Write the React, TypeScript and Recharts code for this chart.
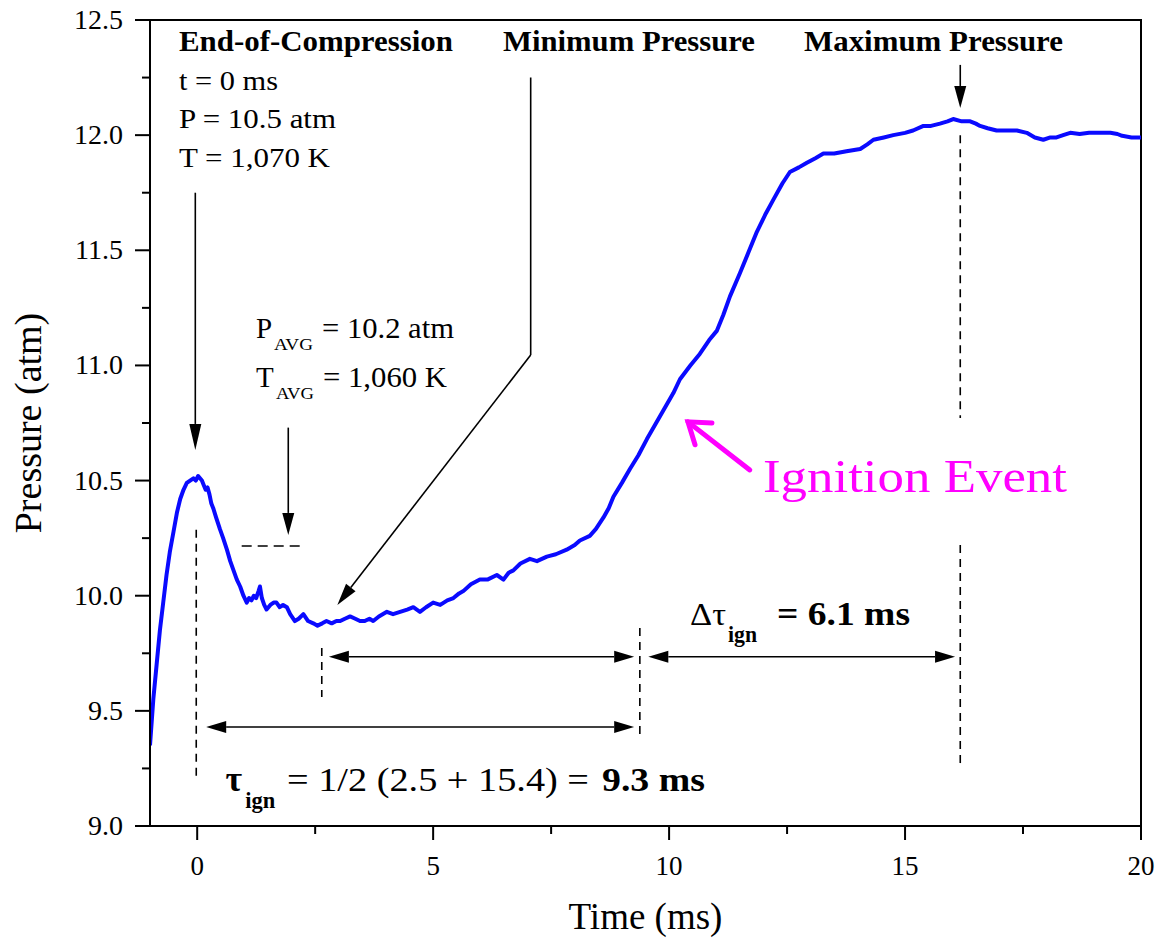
import React from 'react';
import { LineChart, Line, XAxis, YAxis, ReferenceLine, ReferenceDot, ReferenceArea } from 'recharts';

// ---- data ----
const timeMs = [
  -1.0, -0.93, -0.86, -0.79, -0.72, -0.65, -0.58, -0.5, -0.43, -0.36, -0.29, -0.22, -0.15, -0.08, -0.03,
  0.02, 0.06, 0.1, 0.14, 0.18, 0.22, 0.26, 0.3, 0.34, 0.4, 0.48, 0.55, 0.63, 0.7, 0.77, 0.84, 0.91, 0.98,
  1.05, 1.1, 1.15, 1.2, 1.25, 1.3, 1.33, 1.37, 1.42, 1.47, 1.55, 1.62, 1.68, 1.75, 1.82, 1.9, 1.97,
  2.07, 2.15, 2.25, 2.35, 2.46, 2.55, 2.65, 2.74, 2.85, 2.95, 3.03, 3.13, 3.24, 3.35, 3.45, 3.55, 3.65,
  3.73, 3.85, 4.02, 4.15, 4.3, 4.45, 4.58, 4.72, 4.85, 5.0, 5.15, 5.3, 5.43, 5.55, 5.64, 5.8, 5.99,
  6.15, 6.35, 6.49, 6.6, 6.7, 6.85, 7.05, 7.2, 7.41, 7.6, 7.83, 8.0, 8.11, 8.32, 8.45, 8.61, 8.72, 8.82,
  9.0, 9.17, 9.35, 9.53, 9.67, 9.81, 9.95, 10.09, 10.23, 10.45, 10.65, 10.85, 11.01, 11.15, 11.29,
  11.5, 11.68, 11.86, 12.05, 12.21, 12.4, 12.56, 12.75, 12.92, 13.1, 13.27, 13.5, 13.76, 14.05, 14.2,
  14.33, 14.55, 14.75, 15.0, 15.17, 15.39, 15.55, 15.74, 15.9, 16.02, 16.2, 16.38, 16.5, 16.59, 16.75,
  16.94, 17.15, 17.37, 17.58, 17.75, 17.93, 18.08, 18.21, 18.35, 18.5, 18.7, 18.9, 19.13, 19.35, 19.5,
  19.6, 19.8, 20.0,
];
const pressureAtm = [
  9.35, 9.55, 9.7, 9.85, 9.97, 10.09, 10.19, 10.28, 10.36, 10.42, 10.46, 10.49, 10.5, 10.51, 10.5,
  10.52, 10.51, 10.5, 10.48, 10.46, 10.47, 10.44, 10.4, 10.38, 10.34, 10.29, 10.25, 10.2, 10.15, 10.11, 10.07, 10.04, 10.0,
  9.97, 9.99, 9.98, 10.0, 9.99, 10.02, 10.04, 9.99, 9.96, 9.94, 9.96, 9.97, 9.97, 9.95, 9.96, 9.95, 9.92,
  9.89, 9.9, 9.92, 9.89, 9.88, 9.87, 9.88, 9.89, 9.88, 9.89, 9.89, 9.9, 9.91, 9.9, 9.89, 9.89, 9.9,
  9.89, 9.91, 9.93, 9.92, 9.93, 9.94, 9.95, 9.93, 9.95, 9.97, 9.96, 9.98, 9.99, 10.01, 10.02, 10.05, 10.07,
  10.07, 10.09, 10.07, 10.1, 10.11, 10.14, 10.16, 10.15, 10.17, 10.18, 10.2, 10.22, 10.24, 10.26, 10.29, 10.34, 10.38, 10.43,
  10.49, 10.55, 10.61, 10.68, 10.73, 10.78, 10.83, 10.88, 10.94, 11.0, 11.05, 11.11, 11.15, 11.22, 11.3,
  11.4, 11.49, 11.58, 11.66, 11.72, 11.79, 11.84, 11.86, 11.88, 11.9, 11.92, 11.92, 11.93, 11.94, 11.96,
  11.98, 11.99, 12.0, 12.01, 12.02, 12.04, 12.04, 12.05, 12.06, 12.07, 12.06, 12.06, 12.05, 12.04, 12.03,
  12.02, 12.02, 12.02, 12.01, 11.99, 11.98, 11.99, 11.99, 12.0, 12.01, 12.005, 12.01, 12.01, 12.01, 12.005,
  11.997, 11.99, 11.99,
];

const xTicks = [0, 2.5, 5, 7.5, 10, 12.5, 15, 17.5, 20];
const xMajorTicks = [0, 5, 10, 15, 20];
const yTicks = [9, 9.25, 9.5, 9.75, 10, 10.25, 10.5, 10.75, 11, 11.25, 11.5, 11.75, 12, 12.25, 12.5];
const yMajorTicks = [9, 9.5, 10, 10.5, 11, 11.5, 12, 12.5];

// annotation geometry in data coordinates (time ms, pressure atm)
type SegKind = 'arrow' | 'bigArrow' | 'double' | 'dash' | 'dashdot' | 'plain' | 'magenta';
const segFrom: [number, number][] = [
  [-0.04, 11.75], [1.93, 10.73], [0.943, 10.216], [7.067, 12.25], [7.067, 11.045], [16.17, 12.305],
  [16.17, 12.0], [16.17, 10.22], [-0.02, 10.286], [2.64, 9.773], [9.38, 9.86],
  [2.79, 9.735], [9.56, 9.735], [0.19, 9.43], [11.71, 10.546],
];
const segTo: [number, number][] = [
  [-0.04, 10.633], [1.93, 10.264], [2.236, 10.216], [7.067, 11.045], [2.97, 9.96], [16.17, 12.118],
  [16.17, 10.772], [16.17, 9.256], [-0.02, 9.217], [2.64, 9.56], [9.38, 9.38],
  [9.26, 9.735], [16.06, 9.735], [9.26, 9.43], [10.4, 10.755],
];
const segKinds: SegKind[] = [
  'bigArrow', 'arrow', 'dashdot', 'plain', 'arrow', 'arrow',
  'dash', 'dash', 'dash', 'dash', 'dash',
  'double', 'double', 'double', 'magenta',
];

// text annotations: anchor (left, baseline) in data coordinates
const noteTexts = [
  'End-of-Compression', 't = 0 ms', 'P = 10.5 atm', 'T = 1,070 K',
  'Minimum Pressure', 'Maximum Pressure',
  'P', 'AVG', '= 10.2 atm', 'T', 'AVG', '= 1,060 K',
  'τ', 'ign', '= 1/2 (2.5 + 15.4) =', '9.3 ms',
  'Δτ', 'ign', '= 6.1 ms',
  'Ignition Event',
];
const noteTime = [
  -0.386, -0.386, -0.386, -0.386,
  6.48, 12.859,
  1.246, 1.627, 2.645, 1.246, 1.67, 2.666,
  0.6, 1.02, 1.903, 8.578,
  10.443, 11.249, 12.287,
  11.99,
];
const notePressure = [
  12.365, 12.196, 12.031, 11.862,
  12.365, 12.365,
  11.119, 11.067, 11.119, 10.906, 10.854, 10.906,
  9.152, 9.078, 9.152, 9.152,
  9.873, 9.799, 9.873,
  10.45,
];

// ---- styles ----
const SERIF = "'Liberation Serif', 'Times New Roman', Times, serif";
// [fontSize, bold, textLength, color]
const noteStyles: [number, boolean, number | null, string][] = [
  [29, true, 274, '#000'], [28, false, 99, '#000'], [28, false, 157, '#000'], [28, false, 151, '#000'],
  [29, true, 252, '#000'], [29, true, 259, '#000'],
  [29, false, null, '#000'], [17, false, 39, '#000'], [29, false, 132, '#000'],
  [29, false, null, '#000'], [17, false, 38, '#000'], [29, false, 124, '#000'],
  [36, true, null, '#000'], [24, true, 30, '#000'], [34, false, 302, '#000'], [34, true, 103, '#000'],
  [32, false, 36, '#000'], [24, true, 29, '#000'], [34, true, 133, '#000'],
  [46, false, 304, '#ff00ff'],
];

const data = timeMs.map((t, i) => ({ t, p: pressureAtm[i] }));

const headPolygon = (x1: number, y1: number, x2: number, y2: number, len: number, hw: number) => {
  const dx = x2 - x1;
  const dy = y2 - y1;
  const L = Math.hypot(dx, dy) || 1;
  const ux = dx / L;
  const uy = dy / L;
  const bx = x2 - ux * len;
  const by = y2 - uy * len;
  const px = -uy;
  const py = ux;
  return {
    points: `${x2},${y2} ${bx + px * hw},${by + py * hw} ${bx - px * hw},${by - py * hw}`,
    bx,
    by,
  };
};

const renderSeg = (kind: SegKind) => (props: any) => {
  const { x1, y1, x2, y2 } = props;
  if (kind === 'dash' || kind === 'dashdot' || kind === 'plain') {
    return (
      <line
        x1={x1}
        y1={y1}
        x2={x2}
        y2={y2}
        stroke="#000"
        strokeWidth={1.6}
        strokeDasharray={kind === 'dash' ? '8 6' : kind === 'dashdot' ? '10 6' : undefined}
      />
    );
  }
  if (kind === 'arrow' || kind === 'bigArrow') {
    const h = headPolygon(x1, y1, x2, y2, kind === 'bigArrow' ? 26 : 22, 6);
    return (
      <g>
        <line x1={x1} y1={y1} x2={h.bx} y2={h.by} stroke="#000" strokeWidth={1.6} />
        <polygon points={h.points} fill="#000" />
      </g>
    );
  }
  if (kind === 'double') {
    const h2 = headPolygon(x1, y1, x2, y2, 20, 6);
    const h1 = headPolygon(x2, y2, x1, y1, 20, 6);
    return (
      <g>
        <line x1={h1.bx} y1={h1.by} x2={h2.bx} y2={h2.by} stroke="#000" strokeWidth={1.6} />
        <polygon points={h1.points} fill="#000" />
        <polygon points={h2.points} fill="#000" />
      </g>
    );
  }
  // magenta open arrow
  const dx = x1 - x2;
  const dy = y1 - y2;
  const L = Math.hypot(dx, dy) || 1;
  const ux = dx / L;
  const uy = dy / L;
  const arm = 24;
  const a = (35 * Math.PI) / 180;
  const r1x = ux * Math.cos(a) - uy * Math.sin(a);
  const r1y = ux * Math.sin(a) + uy * Math.cos(a);
  const r2x = ux * Math.cos(-a) - uy * Math.sin(-a);
  const r2y = ux * Math.sin(-a) + uy * Math.cos(-a);
  return (
    <g stroke="#ff00ff" strokeWidth={5} strokeLinecap="round" fill="none">
      <line x1={x1} y1={y1} x2={x2} y2={y2} />
      <polyline points={`${x2 + r1x * arm},${y2 + r1y * arm} ${x2},${y2} ${x2 + r2x * arm},${y2 + r2y * arm}`} />
    </g>
  );
};

const renderNote = (i: number) => (props: any) => {
  const { cx, cy } = props;
  const [size, bold, len, color] = noteStyles[i];
  const extra: any = len ? { textLength: len, lengthAdjust: 'spacingAndGlyphs' } : {};
  return (
    <text
      x={cx}
      y={cy}
      fontFamily={SERIF}
      fontSize={size}
      fontWeight={bold ? 700 : 400}
      fill={color}
      {...extra}
    >
      {noteTexts[i]}
    </text>
  );
};

const XTick = (props: any) => {
  const { x, y, payload } = props;
  const v = payload.value;
  const major = xMajorTicks.includes(v);
  return (
    <g>
      <line x1={x} x2={x} y1={y} y2={y + (major ? 14 : 8)} stroke="#000" strokeWidth={2} />
      {major && (
        <text x={x} y={y + 49} textAnchor="middle" fontFamily={SERIF} fontSize={27} fill="#000">
          {String(v)}
        </text>
      )}
    </g>
  );
};

const YTick = (props: any) => {
  const { x, y, payload } = props;
  const v = payload.value;
  const major = yMajorTicks.includes(v);
  return (
    <g>
      <line x1={x} x2={x - (major ? 15 : 8)} y1={y} y2={y} stroke="#000" strokeWidth={2} />
      {major && (
        <text x={x - 27} y={y + 9} textAnchor="end" fontFamily={SERIF} fontSize={28} fill="#000">
          {v.toFixed(1)}
        </text>
      )}
    </g>
  );
};

const XTitle = (props: any) => {
  const vb = props.viewBox;
  return (
    <text x={vb.x + vb.width / 2} y={vb.y + 103} textAnchor="middle" fontFamily={SERIF} fontSize={37} fill="#000">
      Time (ms)
    </text>
  );
};

const YTitle = (props: any) => {
  const vb = props.viewBox;
  const cx = vb.x + 41;
  const cy = vb.y + vb.height / 2;
  return (
    <text
      x={cx}
      y={cy}
      textAnchor="middle"
      fontFamily={SERIF}
      fontSize={38}
      fill="#000"
      transform={`rotate(-90, ${cx}, ${cy})`}
    >
      Pressure (atm)
    </text>
  );
};

export default function App() {
  return (
    <div
      style={{
        position: 'absolute',
        left: 0,
        top: 0,
        width: 1157,
        height: 940,
        overflow: 'hidden',
        background: '#fff',
      }}
    >
      <LineChart width={1157} height={940} data={data} margin={{ top: 20, right: 16, left: 0, bottom: 0 }}>
        <XAxis
          dataKey="t"
          type="number"
          domain={[-1, 20]}
          allowDataOverflow
          ticks={xTicks}
          interval={0}
          tickSize={0}
          tickMargin={0}
          tickLine={false}
          axisLine={{ stroke: '#000', strokeWidth: 2 }}
          height={114}
          tick={(p: any) => <XTick {...p} />}
          label={(p: any) => <XTitle {...p} />}
        />
        <YAxis
          type="number"
          domain={[9, 12.5]}
          allowDataOverflow
          ticks={yTicks}
          interval={0}
          tickSize={0}
          tickMargin={0}
          tickLine={false}
          axisLine={{ stroke: '#000', strokeWidth: 2 }}
          width={150}
          tick={(p: any) => <YTick {...p} />}
          label={(p: any) => <YTitle {...p} />}
        />
        <ReferenceArea
          x1={-1}
          x2={20}
          y1={9}
          y2={12.5}
          fill="none"
          fillOpacity={0}
          stroke="#000"
          strokeWidth={2}
          ifOverflow="visible"
        />
        {segKinds.map((k, i) => (
          <ReferenceLine
            key={`seg-${i}`}
            segment={[
              { x: segFrom[i][0], y: segFrom[i][1] },
              { x: segTo[i][0], y: segTo[i][1] },
            ]}
            ifOverflow="visible"
            shape={renderSeg(k)}
          />
        ))}
        <Line
          dataKey="p"
          type="linear"
          stroke="#0a0aff"
          strokeWidth={4}
          strokeLinejoin="round"
          dot={false}
          activeDot={false}
          isAnimationActive={false}
        />
        {noteTexts.map((_, i) => (
          <ReferenceDot
            key={`note-${i}`}
            x={noteTime[i]}
            y={notePressure[i]}
            r={0}
            ifOverflow="visible"
            shape={renderNote(i)}
          />
        ))}
      </LineChart>
    </div>
  );
}
